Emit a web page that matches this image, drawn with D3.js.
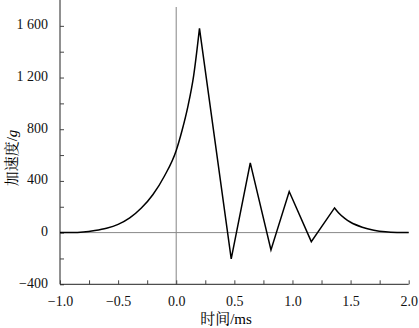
<!DOCTYPE html>
<html><head><meta charset="utf-8">
<script src="https://cdn.jsdelivr.net/npm/d3@7"></script>
<style>
html,body{margin:0;padding:0;background:#fff;}
svg{display:block;}
text{font-family:"Liberation Serif","Times New Roman",serif;}
</style></head>
<body><svg id="c" width="419" height="328"></svg>
<script>
// Rising part (time ms, acceleration g)
const riseT = [-1.0,-0.9,-0.8,-0.7,-0.6,-0.5,-0.4,-0.3,-0.2,-0.1,0.0,0.05,0.1,0.15,0.2];
const riseA = [0,0,4,16,34,64,114,190,295,440,636,790,975,1215,1580];
// Oscillating part (straight segments)
const zigT = [0.2,0.473,0.637,0.815,0.972,1.162,1.362];
const zigA = [1580,-204,540,-134,318,-70,191];
// Decay tail
const tailT = [1.362,1.4,1.45,1.5,1.6,1.7,1.8,1.9,2.0];
const tailA = [191,150,110,80,42,19,6,1,0];

const xTicks = [-1,-0.75,-0.5,-0.25,0,0.25,0.5,0.75,1,1.25,1.5,1.75,2];
const xLabels = {"-1":"−1.0","-0.5":"−0.5","0":"0.0","0.5":"0.5","1":"1.0","1.5":"1.5","2":"2.0"};
const yTicks = [-400,-200,0,200,400,600,800,1000,1200,1400,1600];
const yLabels = {"-400":"−400","0":"0","400":"400","800":"800","1200":"1 200","1600":"1 600"};

const svg = d3.select("#c");
const x = d3.scaleLinear().domain([-1,2]).range([60,408.7]);
const y = d3.scaleLinear().domain([-400,1800]).range([284.3,0]);

// reference lines
svg.append("line").attr("x1",x(0)).attr("x2",x(0)).attr("y1",7).attr("y2",y(-400))
  .attr("stroke","#999").attr("stroke-width",1.2);
svg.append("line").attr("x1",x(-1)).attr("x2",x(2)).attr("y1",y(0)).attr("y2",y(0))
  .attr("stroke","#888").attr("stroke-width",1);

// axes
const yAxis = d3.axisLeft(y).tickValues(yTicks).tickSize(-4).tickPadding(12)
  .tickFormat(d => yLabels[String(d)] || "");
const gy = svg.append("g").attr("transform",`translate(${x(-1)},0)`).call(yAxis);
gy.select(".domain").attr("d",`M0,${y(-400)}V0`).attr("stroke","#222");
gy.selectAll(".tick line").attr("stroke","#444");
gy.selectAll("text").attr("font-size",14).attr("dy","0.2em")
  .attr("font-family","'Liberation Serif','Times New Roman',serif").attr("fill","#111");

const xAxis = d3.axisBottom(x).tickValues(xTicks).tickSize(-4).tickPadding(12)
  .tickFormat(d => xLabels[String(d)] || "");
const gx = svg.append("g").attr("transform",`translate(0,${y(-400)})`).call(xAxis);
gx.select(".domain").attr("d",`M${x(-1)},0H${x(2)}`).attr("stroke","#222");
gx.selectAll(".tick line").attr("stroke","#444");
gx.selectAll("text").attr("font-size",14)
  .attr("font-family","'Liberation Serif','Times New Roman',serif").attr("fill","#111");

// curve
const rise = riseT.map((t,i)=>[t,riseA[i]]);
const zig = zigT.map((t,i)=>[t,zigA[i]]);
const tail = tailT.map((t,i)=>[t,tailA[i]]);
const lineM = d3.line().x(d=>x(d[0])).y(d=>y(d[1])).curve(d3.curveMonotoneX);
const lineL = d3.line().x(d=>x(d[0])).y(d=>y(d[1]));
const path = lineM(rise) + lineL(zig).replace(/^M[^L]*/,"") + lineM(tail).replace(/^M[^LC]*/,"");
svg.append("path").attr("d",path).attr("fill","none").attr("stroke","#000")
  .attr("stroke-width",1.5).attr("stroke-linejoin","miter");

// titles
svg.append("text").attr("x",226).attr("y",324).attr("text-anchor","middle")
  .attr("font-size",15)
  .call(t=>{
    t.append("tspan").attr("font-family","'Noto Serif CJK SC','Noto Sans CJK SC',serif").text("时间");
    t.append("tspan").text("/ms");
  });
svg.append("text").attr("transform","translate(17,158) rotate(-90)").attr("text-anchor","middle")
  .attr("font-size",15)
  .call(t=>{
    t.append("tspan").attr("font-family","'Noto Serif CJK SC','Noto Sans CJK SC',serif").text("加速度");
    t.append("tspan").text("/");
    t.append("tspan").attr("font-style","italic").text("g");
  });
</script></body></html>
